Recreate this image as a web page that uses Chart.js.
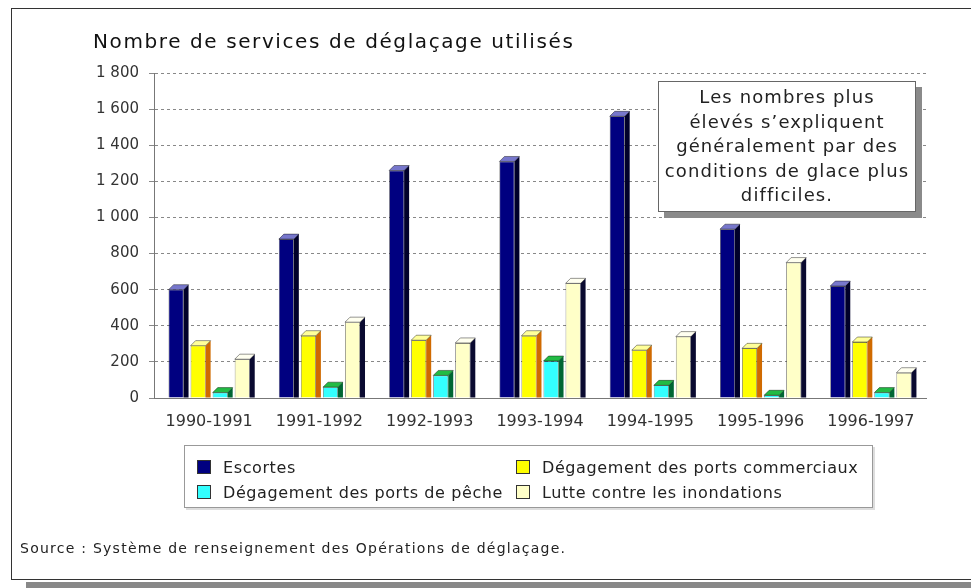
<!DOCTYPE html>
<html>
<head>
<meta charset="utf-8">
<script src="https://cdn.jsdelivr.net/npm/chart.js@4"></script>
<style>
  body { margin: 0; background: #fff; font-family: "DejaVu Sans", sans-serif; color: #222; }
  #page { position: relative; width: 971px; height: 588px; overflow: hidden; }
  #frame { position: absolute; left: 11px; top: 8px; width: 980px; height: 570px; border: 1px solid #333; border-right: none; }
  #frameShadow { position: absolute; left: 26px; top: 582px; width: 960px; height: 8px; background: #888; }
  canvas { position: absolute; left: 0; top: 0; }
  #title { position: absolute; left: 93px; top: 29px; font-size: 20px; letter-spacing: 1.6px; white-space: nowrap; color: #111; }
  #note { position: absolute; left: 658px; top: 81px; width: 258px; height: 131px; border: 1px solid #666; background: #fff;
          box-shadow: 6px 6px 0 #8a8a8a; text-align: center; font-size: 18px; letter-spacing: 1.1px; line-height: 24.5px;
          padding-top: 3px; box-sizing: border-box; color: #222; }
  #legend { position: absolute; left: 184px; top: 445px; width: 689px; height: 63px; border: 1px solid #999; box-shadow: 2px 2px 0 #ddd;
            box-sizing: border-box; font-size: 16px; letter-spacing: 0.6px; color: #222; }
  .item { position: absolute; white-space: nowrap; line-height: 19px; }
  .box { display: inline-block; width: 12px; height: 12px; border: 1px solid #333; vertical-align: -1px; margin-right: 12px; }
  #source { position: absolute; left: 20px; top: 540px; font-size: 14px; letter-spacing: 1.25px; white-space: nowrap; color: #222; }
</style>
</head>
<body>
<div id="page">
  <div id="frame"></div>
  <div id="frameShadow"></div>
  <canvas id="chart" width="971" height="588"></canvas>
  <div id="title">Nombre de services de déglaçage utilisés</div>
  <div id="note">Les nombres plus<br>élevés s’expliquent<br>généralement par des<br>conditions de glace plus<br>difficiles.</div>
  <div id="legend"></div>
  <div id="source">Source : Système de renseignement des Opérations de déglaçage.</div>
</div>
<script>
var years = ['1990-1991', '1991-1992', '1992-1993', '1993-1994', '1994-1995', '1995-1996', '1996-1997'];
var escortes = [600, 880, 1260, 1310, 1560, 935, 620];
var portsCommerciaux = [290, 345, 320, 345, 265, 275, 310];
var portsPeche = [30, 60, 125, 205, 70, 15, 30];
var inondations = [215, 420, 305, 635, 340, 750, 140];
var yTicks = [0, 200, 400, 600, 800, 1000, 1200, 1400, 1600, 1800];

// front, side, top colours for the 3D look
var faces = [
    { front: '#000080', side: '#00002a', top: '#7777cc' },
    { front: '#ffff00', side: '#d06a00', top: '#ffff99' },
    { front: '#33ffff', side: '#006633', top: '#22bb44' },
    { front: '#ffffc8', side: '#0a0a30', top: '#fffff0' }
];

var DEPTH = 5;

var bars3d = {
    id: 'bars3d',
    afterDatasetsDraw: function( chart ){
        var ctx = chart.ctx;
        chart.data.datasets.forEach(function( ds, i ){
            var meta = chart.getDatasetMeta( i );
            meta.data.forEach(function( bar ){
                var p = bar.getProps([ 'x', 'y', 'width', 'base' ], true );
                var l = p.x - p.width / 2, r = p.x + p.width / 2;
                ctx.save();
                ctx.strokeStyle = 'rgba(0,0,0,0.6)';
                ctx.lineWidth = 0.7;
                // side
                ctx.fillStyle = faces[i].side;
                ctx.beginPath();
                ctx.moveTo( r, p.y );
                ctx.lineTo( r + DEPTH, p.y - DEPTH );
                ctx.lineTo( r + DEPTH, p.base );
                ctx.lineTo( r, p.base );
                ctx.closePath();
                ctx.fill();
                // top
                ctx.fillStyle = faces[i].top;
                ctx.beginPath();
                ctx.moveTo( l, p.y );
                ctx.lineTo( l + DEPTH, p.y - DEPTH );
                ctx.lineTo( r + DEPTH, p.y - DEPTH );
                ctx.lineTo( r, p.y );
                ctx.closePath();
                ctx.fill();
                ctx.stroke();
                ctx.restore();
            });
        });
    }
};

function spaced( v ){
    return String( v ).replace( /\B(?=(\d{3})+(?!\d))/g, ' ' );
}

var ctx = document.getElementById( 'chart' ).getContext( '2d' );
var chart = new Chart( ctx, {
    type: 'bar',
    data: {
        labels: years,
        datasets: [
            { label: 'Escortes', data: escortes },
            { label: 'Dégagement des ports commerciaux', data: portsCommerciaux },
            { label: 'Dégagement des ports de pêche', data: portsPeche },
            { label: 'Lutte contre les inondations', data: inondations }
        ].map(function( ds, i ){
            ds.backgroundColor = faces[i].front;
            ds.borderColor = 'rgba(0,0,0,0.7)';
            ds.borderWidth = 0.7;
            ds.categoryPercentage = 0.8;
            ds.barPercentage = 0.68;
            return ds;
        })
    },
    plugins: [ bars3d ],
    options: {
        responsive: false,
        animation: false,
        layout: { padding: { left: 94, right: 45, top: 73, bottom: 160 } },
        plugins: {
            legend: { display: false },
            title: { display: false },
            tooltip: { enabled: false }
        },
        scales: {
            x: {
                grid: { display: false },
                border: { color: '#777', width: 1 },
                ticks: { color: '#333', font: { family: 'DejaVu Sans', size: 16 }, padding: 6 },
                afterFit: function( s ){ s.height = 30; }
            },
            y: {
                min: 0,
                max: 1800,
                afterBuildTicks: function( s ){ s.ticks = yTicks.map(function( v ){ return { value: v }; }); },
                afterFit: function( s ){ s.width = 60; },
                grid: { color: '#888', drawTicks: true, tickLength: 5, lineWidth: 1 },
                border: { color: '#777', width: 1, dash: [ 3, 3 ] },
                ticks: {
                    color: '#333',
                    padding: 10,
                    font: { family: 'DejaVu Sans', size: 15 },
                    callback: function( v ){ return spaced( v ); }
                }
            }
        }
    }
});

// legend built from the datasets
var legend = document.getElementById( 'legend' );
var spots = [ [ 12, 12 ], [ 331, 12 ], [ 12, 37 ], [ 331, 37 ] ];
chart.data.datasets.forEach(function( ds, i ){
    var d = document.createElement( 'div' );
    d.className = 'item';
    d.style.left = spots[i][0] + 'px';
    d.style.top = spots[i][1] + 'px';
    d.innerHTML = '<span class="box" style="background:' + ds.backgroundColor + '"></span>' + ds.label;
    legend.appendChild( d );
});
</script>
</body>
</html>
